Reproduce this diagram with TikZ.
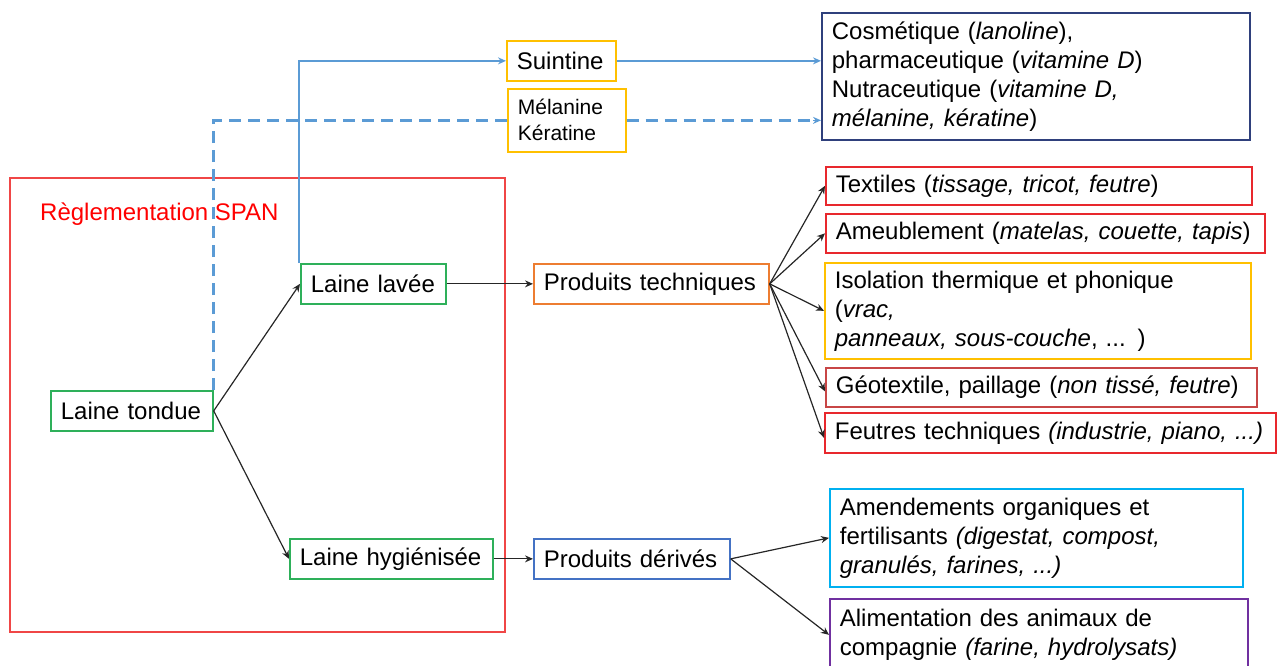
\documentclass[tikz,border=0pt]{standalone}
\usepackage{fontspec}
\setmainfont{Liberation Sans}
\usetikzlibrary{arrows.meta}
\definecolor{cgreen}{RGB}{46,176,90}
\definecolor{cred}{RGB}{232,40,45}
\definecolor{cbig}{RGB}{240,70,70}
\definecolor{cgeo}{RGB}{200,70,70}
\definecolor{corange}{RGB}{237,125,49}
\definecolor{cgold}{RGB}{255,192,0}
\definecolor{cnavy}{RGB}{47,64,124}
\definecolor{csteel}{RGB}{68,114,196}
\definecolor{ccyan}{RGB}{0,176,240}
\definecolor{cpurple}{RGB}{112,48,160}
\definecolor{cline}{RGB}{91,155,213}
\newcommand\oneln[1]{\mbox{#1}}
\begin{document}
\begin{tikzpicture}[x=1pt,y=-1pt,
  bx/.style={draw, line width=1.7pt, anchor=north west, inner xsep=10pt, inner ysep=0pt,
    align=left, font=\fontsize{24}{29}\selectfont},
  arr/.style={-{Stealth[length=8pt,width=7pt]}, line width=1.2pt, black!85},
  barr/.style={-{Stealth[length=8pt,width=7pt]}, line width=1.5pt, cline},
  darr/.style={line width=3pt, cline, dash pattern=on 12pt off 7pt}]
\useasboundingbox (0,0) rectangle (1279,665);

% regulatory frame
\draw[cbig, line width=1.7pt] (10,178) rectangle (505,632);
\node[anchor=west, inner sep=0pt, text=red, font=\fontsize{24}{29}\selectfont] (span) at (40,214) {Règlementation SPAN};

% main chain
\node[bx, draw=cgreen, minimum width=162pt, minimum height=40pt, text width=142pt] (tondue) at (50,390) {\oneln{Laine tondue}};
\node[bx, draw=cgreen, minimum width=145pt, minimum height=40pt, text width=125pt] (lavee) at (300,263) {\oneln{Laine lavée}};
\node[bx, draw=cgreen, minimum width=203pt, minimum height=40pt, text width=183pt] (hyg) at (289,538) {\oneln{Laine hygiénisée}};
\node[bx, draw=corange, minimum width=235pt, minimum height=40pt, text width=215pt] (tech) at (533,263) {\oneln{Produits techniques}};
\node[bx, draw=csteel, minimum width=196pt, minimum height=40pt, text width=176pt] (deriv) at (533,538) {\oneln{Produits dérivés}};

% by-products
\node[bx, draw=cgold, minimum width=109pt, minimum height=40pt, text width=89pt] (suin) at (506,40) {\oneln{Suintine}};
\node[bx, draw=cgold, minimum width=118pt, minimum height=63pt, text width=98pt,
  font=\fontsize{21}{26}\selectfont] (mel) at (507,88) {Mélanine\\Kératine};
\node[bx, draw=cnavy, minimum width=428pt, minimum height=127pt, text width=408pt] (cosm) at (821,12)
  {Cosmétique (\textit{lanoline}),\\pharmaceutique (\textit{vitamine D})\\Nutraceutique (\textit{vitamine D,}\\\textit{mélanine, kératine})};

% technical products
\node[bx, draw=cred, minimum width=426pt, minimum height=38pt, text width=406pt] (textile) at (825,166)
  {\oneln{Textiles (\textit{tissage, tricot, feutre})}};
\node[bx, draw=cred, minimum width=439pt, minimum height=39pt, text width=419pt] (ameub) at (825,213)
  {\oneln{Ameublement (\textit{matelas, couette, tapis})}};
\node[bx, draw=cgold, minimum width=426pt, minimum height=96pt, text width=406pt] (iso) at (824,262)
  {Isolation thermique et phonique\\(\textit{vrac,}\\\textit{panneaux, sous-couche}, ... )};
\node[bx, draw=cgeo, minimum width=431pt, minimum height=39pt, text width=411pt] (geo) at (825,367)
  {\oneln{Géotextile, paillage (\textit{non tissé, feutre})}};
\node[bx, draw=cred, minimum width=451pt, minimum height=40pt, text width=431pt] (feut) at (824,412)
  {\oneln{Feutres techniques \textit{(industrie, piano, ...)}}};

% derived products
\node[bx, draw=ccyan, minimum width=413pt, minimum height=98pt, text width=393pt] (amend) at (829,488)
  {Amendements organiques et\\fertilisants \textit{(digestat, compost,}\\\textit{granulés, farines, ...)}};
\node[bx, draw=cpurple, minimum width=418pt, minimum height=72pt, text width=398pt] (alim) at (829,598)
  {Alimentation des animaux de\\compagnie \textit{(farine, hydrolysats)}};

% blue connectors
\draw[barr] ([xshift=-1pt]lavee.north west) |- (suin.west);
\draw[barr] (suin.east) -- (suin.east -| cosm.west);
\draw[darr] (tondue.north east) |- (mel.west);
\draw[darr] (mel.east) -- ([xshift=-8pt]mel.east -| cosm.west) coordinate (dend);
\draw[barr] (dend) -- (mel.east -| cosm.west);

% black connectors
\draw[arr] (tondue.east) -- (lavee.west);
\draw[arr] (tondue.east) -- (hyg.west);
\draw[arr] (lavee.east) -- (tech.west);
\draw[arr] (hyg.east) -- (deriv.west);
\draw[arr] (tech.east) -- (textile.west);
\draw[arr] (tech.east) -- (ameub.west);
\draw[arr] (tech.east) -- (iso.west);
\draw[arr] (tech.east) -- ([yshift=-4pt]geo.west);
\draw[arr] (tech.east) -- ([yshift=-5pt]feut.west);
\draw[arr] (deriv.east) -- (amend.west);
\draw[arr] (deriv.east) -- (alim.west);
\end{tikzpicture}
\end{document}
